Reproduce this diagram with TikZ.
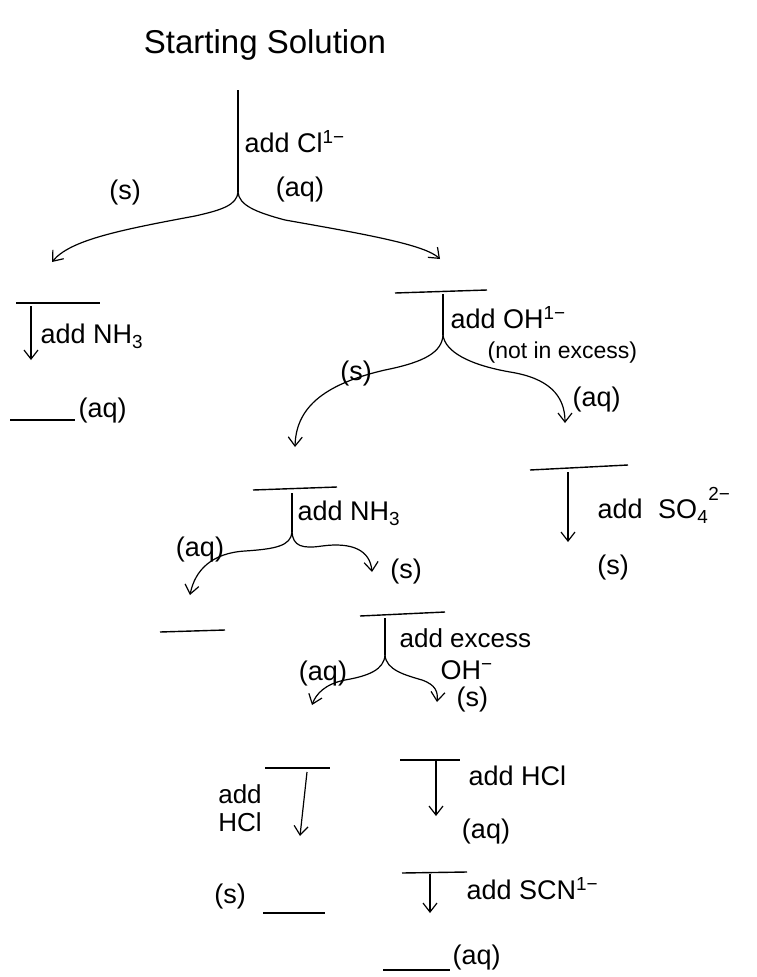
\documentclass[tikz,border=0pt]{standalone}
\usepackage{fontspec}
\setmainfont{Liberation Sans}
\usetikzlibrary{arrows.meta}
\begin{document}
\begin{tikzpicture}[x=1pt,y=-1pt,
  line width=1.2pt,
  >={Straight Barb[length=9pt,width=14pt]},
  big/.style={font=\fontsize{33}{36}\selectfont, inner sep=0pt},
  lbl/.style={font=\fontsize{27}{30}\selectfont, inner sep=0pt},
  sml/.style={font=\fontsize{23}{25}\selectfont, inner sep=0pt, align=center},
  two/.style={font=\fontsize{26}{28}\selectfont, inner sep=0pt, align=center},
  bar/.style={line width=1.4pt},
  flow/.style={->}]
\useasboundingbox (0,0) rectangle (757,977);

% ---- top split
\node[big] (title) at (265,45) {Starting Solution};
\coordinate (t1) at (238,90);
\coordinate (j1) at (238,192);
\coordinate (l1) at (52,262);
\coordinate (r1) at (440,259);
\draw (t1) -- (j1);
\draw[flow] (j1) .. controls (237,205) and (222,210) .. (195,216) .. controls (120,230) and (70,240) .. (l1);
\draw[flow] (j1) .. controls (239,205) and (255,212) .. (285,220) .. controls (370,235) and (425,245) .. (r1);
\node[lbl, anchor=west] (addcl) at (244,142) {add Cl\textsuperscript{1−}};
\node[lbl] (s1) at (125,193) {(s)};
\node[lbl] (aq1) at (300,190) {(aq)};

% ---- left branch
\coordinate (b2l) at (16,303);
\coordinate (b2r) at (100,303);
\draw[bar] (b2l) -- (b2r);
\coordinate (a2t) at (31,306);
\coordinate (a2b) at (31,360);
\draw[flow] (a2t) -- (a2b);
\node[lbl, anchor=west] (nh3a) at (40,336) {add NH\textsubscript{3}};
\coordinate (blAl) at (10,420);
\coordinate (blAr) at (75,420);
\draw[bar] (blAl) -- (blAr);
\node[lbl, anchor=west] (aqA) at (78,411) {(aq)};

% ---- right split
\coordinate (b3l) at (395,293);
\coordinate (b3r) at (487,290);
\draw[bar] (b3l) -- (b3r);
\coordinate (t2) at (443,294);
\coordinate (j2) at (443,335);
\coordinate (l2) at (295,447);
\coordinate (r2) at (565,423);
\draw (t2) -- (j2);
\draw[flow] (j2) .. controls (442,352) and (425,362) .. (385,370) .. controls (320,385) and (296,410) .. (l2);
\draw[flow] (j2) .. controls (445,352) and (470,365) .. (510,372) .. controls (548,378) and (565,395) .. (r2);
\node[lbl, anchor=west] (addoh) at (450,318) {add OH\textsuperscript{1−}};
\node[sml, anchor=west] (notex) at (487,353) {(not in excess)};
\node[lbl] (s2) at (356,374) {(s)};
\node[lbl, anchor=west] (aq2) at (572,400) {(aq)};

% ---- SO4 branch
\coordinate (b4l) at (530,470);
\coordinate (b4r) at (628,465);
\draw[bar] (b4l) -- (b4r);
\coordinate (a4t) at (568,472);
\coordinate (a4b) at (568,542);
\draw[flow] (a4t) -- (a4b);
\node[lbl, anchor=west] (so4) at (597,505) {add\hspace{0.3em} SO\textsubscript{4}\raisebox{0.35em}{\textsuperscript{2−}}};
\node[lbl] (s3) at (613,568) {(s)};

% ---- NH3 split
\coordinate (b5l) at (253,490);
\coordinate (b5r) at (337,487);
\draw[bar] (b5l) -- (b5r);
\coordinate (t3) at (292,493);
\coordinate (j3) at (292,532);
\coordinate (l3) at (190,595);
\coordinate (r3) at (372,572);
\draw (t3) -- (j3);
\draw[flow] (j3) .. controls (291,546) and (275,549) .. (245,551) .. controls (212,553) and (195,570) .. (l3);
\draw[flow] (j3) .. controls (293,546) and (302,549) .. (322,546) .. controls (352,542) and (370,550) .. (r3);
\node[lbl, anchor=west] (nh3b) at (297,513) {add NH\textsubscript{3}};
\node[lbl] (aq3) at (200,550) {(aq)};
\node[lbl] (s4) at (406,572) {(s)};
\coordinate (blBl) at (160,632);
\coordinate (blBr) at (225,630);
\draw[bar] (blBl) -- (blBr);

% ---- excess OH split
\coordinate (b6l) at (360,616);
\coordinate (b6r) at (445,612);
\draw[bar] (b6l) -- (b6r);
\coordinate (t4) at (385,618);
\coordinate (j4) at (385,655);
\coordinate (l4) at (312,705);
\coordinate (r4) at (437,702);
\draw (t4) -- (j4);
\draw[flow] (j4) .. controls (384,670) and (368,676) .. (345,680) .. controls (325,684) and (316,694) .. (l4);
\draw[flow] (j4) .. controls (386,670) and (405,675) .. (422,680) .. controls (436,685) and (438,692) .. (r4);
\node[two, anchor=west] (addex) at (399,638) {add excess};
\node[lbl, anchor=west] (ohm) at (440,670) {OH\textsuperscript{−}};
\node[lbl, anchor=west] (s5) at (456,700) {(s)};
\node[lbl] (aq4) at (323,674) {(aq)};

% ---- lower left
\coordinate (b7l) at (265,768);
\coordinate (b7r) at (330,768);
\draw[bar] (b7l) -- (b7r);
\coordinate (a7t) at (307,772);
\coordinate (a7b) at (300,836);
\draw[flow] (a7t) -- (a7b);
\node[two] (hcl1) at (240,808) {add\\HCl};
\node[lbl] (s6) at (230,897) {(s)};
\coordinate (blCl) at (263,913);
\coordinate (blCr) at (325,913);
\draw[bar] (blCl) -- (blCr);

% ---- lower right
\coordinate (b8l) at (400,760);
\coordinate (b8r) at (460,760);
\draw[bar] (b8l) -- (b8r);
\coordinate (a8t) at (436,761);
\coordinate (a8b) at (436,816);
\draw[flow] (a8t) -- (a8b);
\node[lbl, anchor=west] (hcl2) at (468,776) {add HCl};
\node[lbl] (aq5) at (486,832) {(aq)};
\coordinate (b9l) at (402,873);
\coordinate (b9r) at (467,872);
\draw[bar] (b9l) -- (b9r);
\coordinate (a9t) at (430,874);
\coordinate (a9b) at (430,913);
\draw[flow] (a9t) -- (a9b);
\node[lbl, anchor=west] (scn) at (466,889) {add SCN\textsuperscript{1−}};
\coordinate (blDl) at (383,970);
\coordinate (blDr) at (450,970);
\draw[bar] (blDl) -- (blDr);
\node[lbl, anchor=west] (aq6) at (452,958) {(aq)};
\end{tikzpicture}
\end{document}
